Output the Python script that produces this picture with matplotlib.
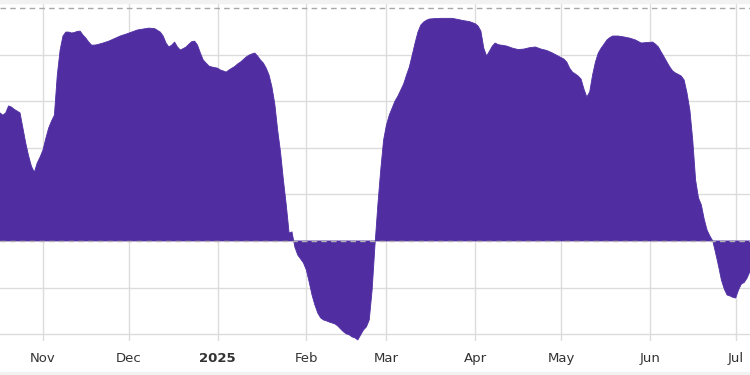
import matplotlib
matplotlib.use("Agg")
import matplotlib.pyplot as plt
import numpy as np
import pandas as pd
from matplotlib.patches import Rectangle

# rolling value (date, value)
dates = [
    "2024-10-17", "2024-10-18", "2024-10-19", "2024-10-20", "2024-10-21", "2024-10-22",
    "2024-10-24", "2024-10-25", "2024-10-26", "2024-10-27", "2024-10-28", "2024-10-29",
    "2024-10-30", "2024-10-31", "2024-11-01", "2024-11-02", "2024-11-03", "2024-11-04",
    "2024-11-05", "2024-11-06", "2024-11-07", "2024-11-08", "2024-11-09", "2024-11-10",
    "2024-11-11", "2024-11-12", "2024-11-13", "2024-11-14", "2024-11-15", "2024-11-16",
    "2024-11-17", "2024-11-18", "2024-11-19", "2024-11-20", "2024-11-22", "2024-11-24",
    "2024-11-26", "2024-11-28", "2024-11-30", "2024-12-02", "2024-12-04", "2024-12-06",
    "2024-12-08", "2024-12-10", "2024-12-12", "2024-12-13", "2024-12-14", "2024-12-15",
    "2024-12-16", "2024-12-17", "2024-12-18", "2024-12-19", "2024-12-20", "2024-12-21",
    "2024-12-22", "2024-12-23", "2024-12-24", "2024-12-25", "2024-12-26", "2024-12-27",
    "2024-12-28", "2024-12-29", "2024-12-30", "2025-01-01", "2025-01-02", "2025-01-03",
    "2025-01-04", "2025-01-05", "2025-01-06", "2025-01-07", "2025-01-08", "2025-01-09",
    "2025-01-10", "2025-01-11", "2025-01-12", "2025-01-13", "2025-01-14", "2025-01-15",
    "2025-01-16", "2025-01-17", "2025-01-18", "2025-01-19", "2025-01-20", "2025-01-21",
    "2025-01-22", "2025-01-23", "2025-01-24", "2025-01-25", "2025-01-26", "2025-01-27",
    "2025-01-28", "2025-01-29", "2025-01-30", "2025-01-31", "2025-02-01", "2025-02-02",
    "2025-02-03", "2025-02-04", "2025-02-05", "2025-02-06", "2025-02-07", "2025-02-08",
    "2025-02-09", "2025-02-10", "2025-02-11", "2025-02-12", "2025-02-13", "2025-02-14",
    "2025-02-15", "2025-02-16", "2025-02-17", "2025-02-18", "2025-02-19", "2025-02-20",
    "2025-02-21", "2025-02-22", "2025-02-23", "2025-02-24", "2025-02-25", "2025-02-26",
    "2025-02-27", "2025-02-28", "2025-03-01", "2025-03-02", "2025-03-03", "2025-03-04",
    "2025-03-05", "2025-03-06", "2025-03-07", "2025-03-08", "2025-03-09", "2025-03-10",
    "2025-03-11", "2025-03-12", "2025-03-13", "2025-03-14", "2025-03-15", "2025-03-16",
    "2025-03-18", "2025-03-20", "2025-03-22", "2025-03-24", "2025-03-26", "2025-03-28",
    "2025-03-30", "2025-04-01", "2025-04-02", "2025-04-03", "2025-04-04", "2025-04-05",
    "2025-04-06", "2025-04-07", "2025-04-08", "2025-04-09", "2025-04-10", "2025-04-11",
    "2025-04-12", "2025-04-14", "2025-04-16", "2025-04-18", "2025-04-20", "2025-04-22",
    "2025-04-24", "2025-04-26", "2025-04-28", "2025-04-30", "2025-05-02", "2025-05-03",
    "2025-05-04", "2025-05-05", "2025-05-06", "2025-05-07", "2025-05-08", "2025-05-09",
    "2025-05-10", "2025-05-11", "2025-05-12", "2025-05-13", "2025-05-14", "2025-05-15",
    "2025-05-16", "2025-05-17", "2025-05-18", "2025-05-19", "2025-05-21", "2025-05-23",
    "2025-05-25", "2025-05-27", "2025-05-29", "2025-05-31", "2025-06-02", "2025-06-03",
    "2025-06-04", "2025-06-05", "2025-06-06", "2025-06-07", "2025-06-08", "2025-06-09",
    "2025-06-10", "2025-06-11", "2025-06-12", "2025-06-13", "2025-06-14", "2025-06-15",
    "2025-06-16", "2025-06-17", "2025-06-18", "2025-06-19", "2025-06-20", "2025-06-21",
    "2025-06-22", "2025-06-23", "2025-06-24", "2025-06-25", "2025-06-26", "2025-06-27",
    "2025-06-28", "2025-06-29", "2025-06-30", "2025-07-01", "2025-07-02", "2025-07-03",
    "2025-07-04", "2025-07-05", "2025-07-06",
]
values = [
    0.55, 0.54, 0.55, 0.58, 0.575, 0.565,
    0.55, 0.485, 0.42, 0.365, 0.32, 0.295,
    0.335, 0.36, 0.39, 0.44, 0.485, 0.515,
    0.54, 0.71, 0.82, 0.88, 0.897, 0.897,
    0.893, 0.895, 0.90, 0.901, 0.884, 0.871,
    0.854, 0.841, 0.841, 0.843, 0.85, 0.858,
    0.869, 0.88, 0.888, 0.897, 0.906, 0.91,
    0.914, 0.912, 0.897, 0.88, 0.85, 0.833,
    0.841, 0.854, 0.833, 0.82, 0.826, 0.833,
    0.845, 0.856, 0.858, 0.841, 0.807, 0.777,
    0.764, 0.751, 0.747, 0.742, 0.734, 0.73,
    0.725, 0.734, 0.742, 0.749, 0.76, 0.768,
    0.779, 0.79, 0.798, 0.803, 0.807, 0.794,
    0.777, 0.764, 0.742, 0.712, 0.661, 0.588,
    0.476, 0.382, 0.262, 0.155, 0.034, 0.039,
    -0.026, -0.06, -0.077, -0.094, -0.124, -0.176,
    -0.232, -0.275, -0.309, -0.33, -0.339, -0.343,
    -0.348, -0.352, -0.356, -0.365, -0.378, -0.39,
    -0.399, -0.403, -0.412, -0.416, -0.425, -0.403,
    -0.382, -0.369, -0.339, -0.21, -0.017, 0.155,
    0.305, 0.433, 0.498, 0.541, 0.571, 0.601,
    0.622, 0.648, 0.674, 0.712, 0.747, 0.798,
    0.85, 0.897, 0.927, 0.94, 0.948, 0.953,
    0.955, 0.956, 0.956, 0.956, 0.951, 0.946,
    0.942, 0.933, 0.923, 0.901, 0.828, 0.794,
    0.815, 0.837, 0.85, 0.843, 0.841, 0.839,
    0.837, 0.828, 0.822, 0.824, 0.83, 0.833,
    0.824, 0.818, 0.807, 0.794, 0.781, 0.768,
    0.742, 0.725, 0.717, 0.708, 0.695, 0.652,
    0.618, 0.64, 0.712, 0.768, 0.807, 0.828,
    0.845, 0.863, 0.873, 0.88, 0.88, 0.876,
    0.871, 0.863, 0.85, 0.852, 0.854, 0.845,
    0.833, 0.811, 0.79, 0.768, 0.747, 0.73,
    0.721, 0.715, 0.708, 0.691, 0.635, 0.562,
    0.433, 0.262, 0.185, 0.155, 0.094, 0.047,
    0.021, 0.0, -0.052, -0.107, -0.167, -0.206,
    -0.232, -0.236, -0.242, -0.245, -0.21, -0.185,
    -0.178, -0.159, -0.13,
]

tick_dates = ["2024-11-01", "2024-12-01", "2025-01-01", "2025-02-01", "2025-03-01",
              "2025-04-01", "2025-05-01", "2025-06-01", "2025-07-01"]
tick_labels = ["Nov", "Dec", "2025", "Feb", "Mar", "Apr", "May", "Jun", "Jul"]

x = pd.to_datetime(dates)
y = np.array(values)
fill_color = "#502ea2"

fig = plt.figure(figsize=(7.5, 3.75), dpi=100)
# thin light bands at top and bottom of the image
fig.patches.append(Rectangle((0, 0.992), 1, 0.008, transform=fig.transFigure,
                             color="#f2f2f2", zorder=0))
fig.patches.append(Rectangle((0, 0.0), 1, 0.008, transform=fig.transFigure,
                             color="#f2f2f2", zorder=0))

ax = fig.add_axes([0.0, 0.091, 1.0, 0.898])
ax.patch.set_alpha(0)

# grid
for v in [-0.4, -0.2, 0.2, 0.4, 0.6, 0.8]:
    ax.axhline(v, color="#dcdcdc", lw=1.0, zorder=0)
for d in tick_dates:
    ax.axvline(pd.Timestamp(d), color="#dcdcdc", lw=1.0, zorder=0)

ax.fill_between(x, 0, y, color=fill_color, lw=0.6, edgecolor=fill_color, zorder=2)

ax.axhline(0, color="#b0b0b0", lw=1.0, ls=(0, (4, 3)), zorder=3)
ax.axhline(1.0, color="#a8a8a8", lw=1.0, ls=(0, (4, 3)), zorder=3)

ax.set_xlim(pd.Timestamp("2024-10-17"), pd.Timestamp("2025-07-06"))
ax.set_ylim(-0.429, 1.017)

ax.set_xticks(pd.to_datetime(tick_dates))
ax.set_xticklabels(tick_labels)
ax.set_yticks([])
ax.tick_params(axis="x", length=0, pad=8, labelsize=9.5, labelcolor="#333333")
for lab in ax.get_xticklabels():
    lab.set_fontfamily("DejaVu Sans")
    if lab.get_text() == "2025":
        lab.set_fontweight("bold")
for s in ax.spines.values():
    s.set_visible(False)

fig.savefig("out.png", dpi=100)
